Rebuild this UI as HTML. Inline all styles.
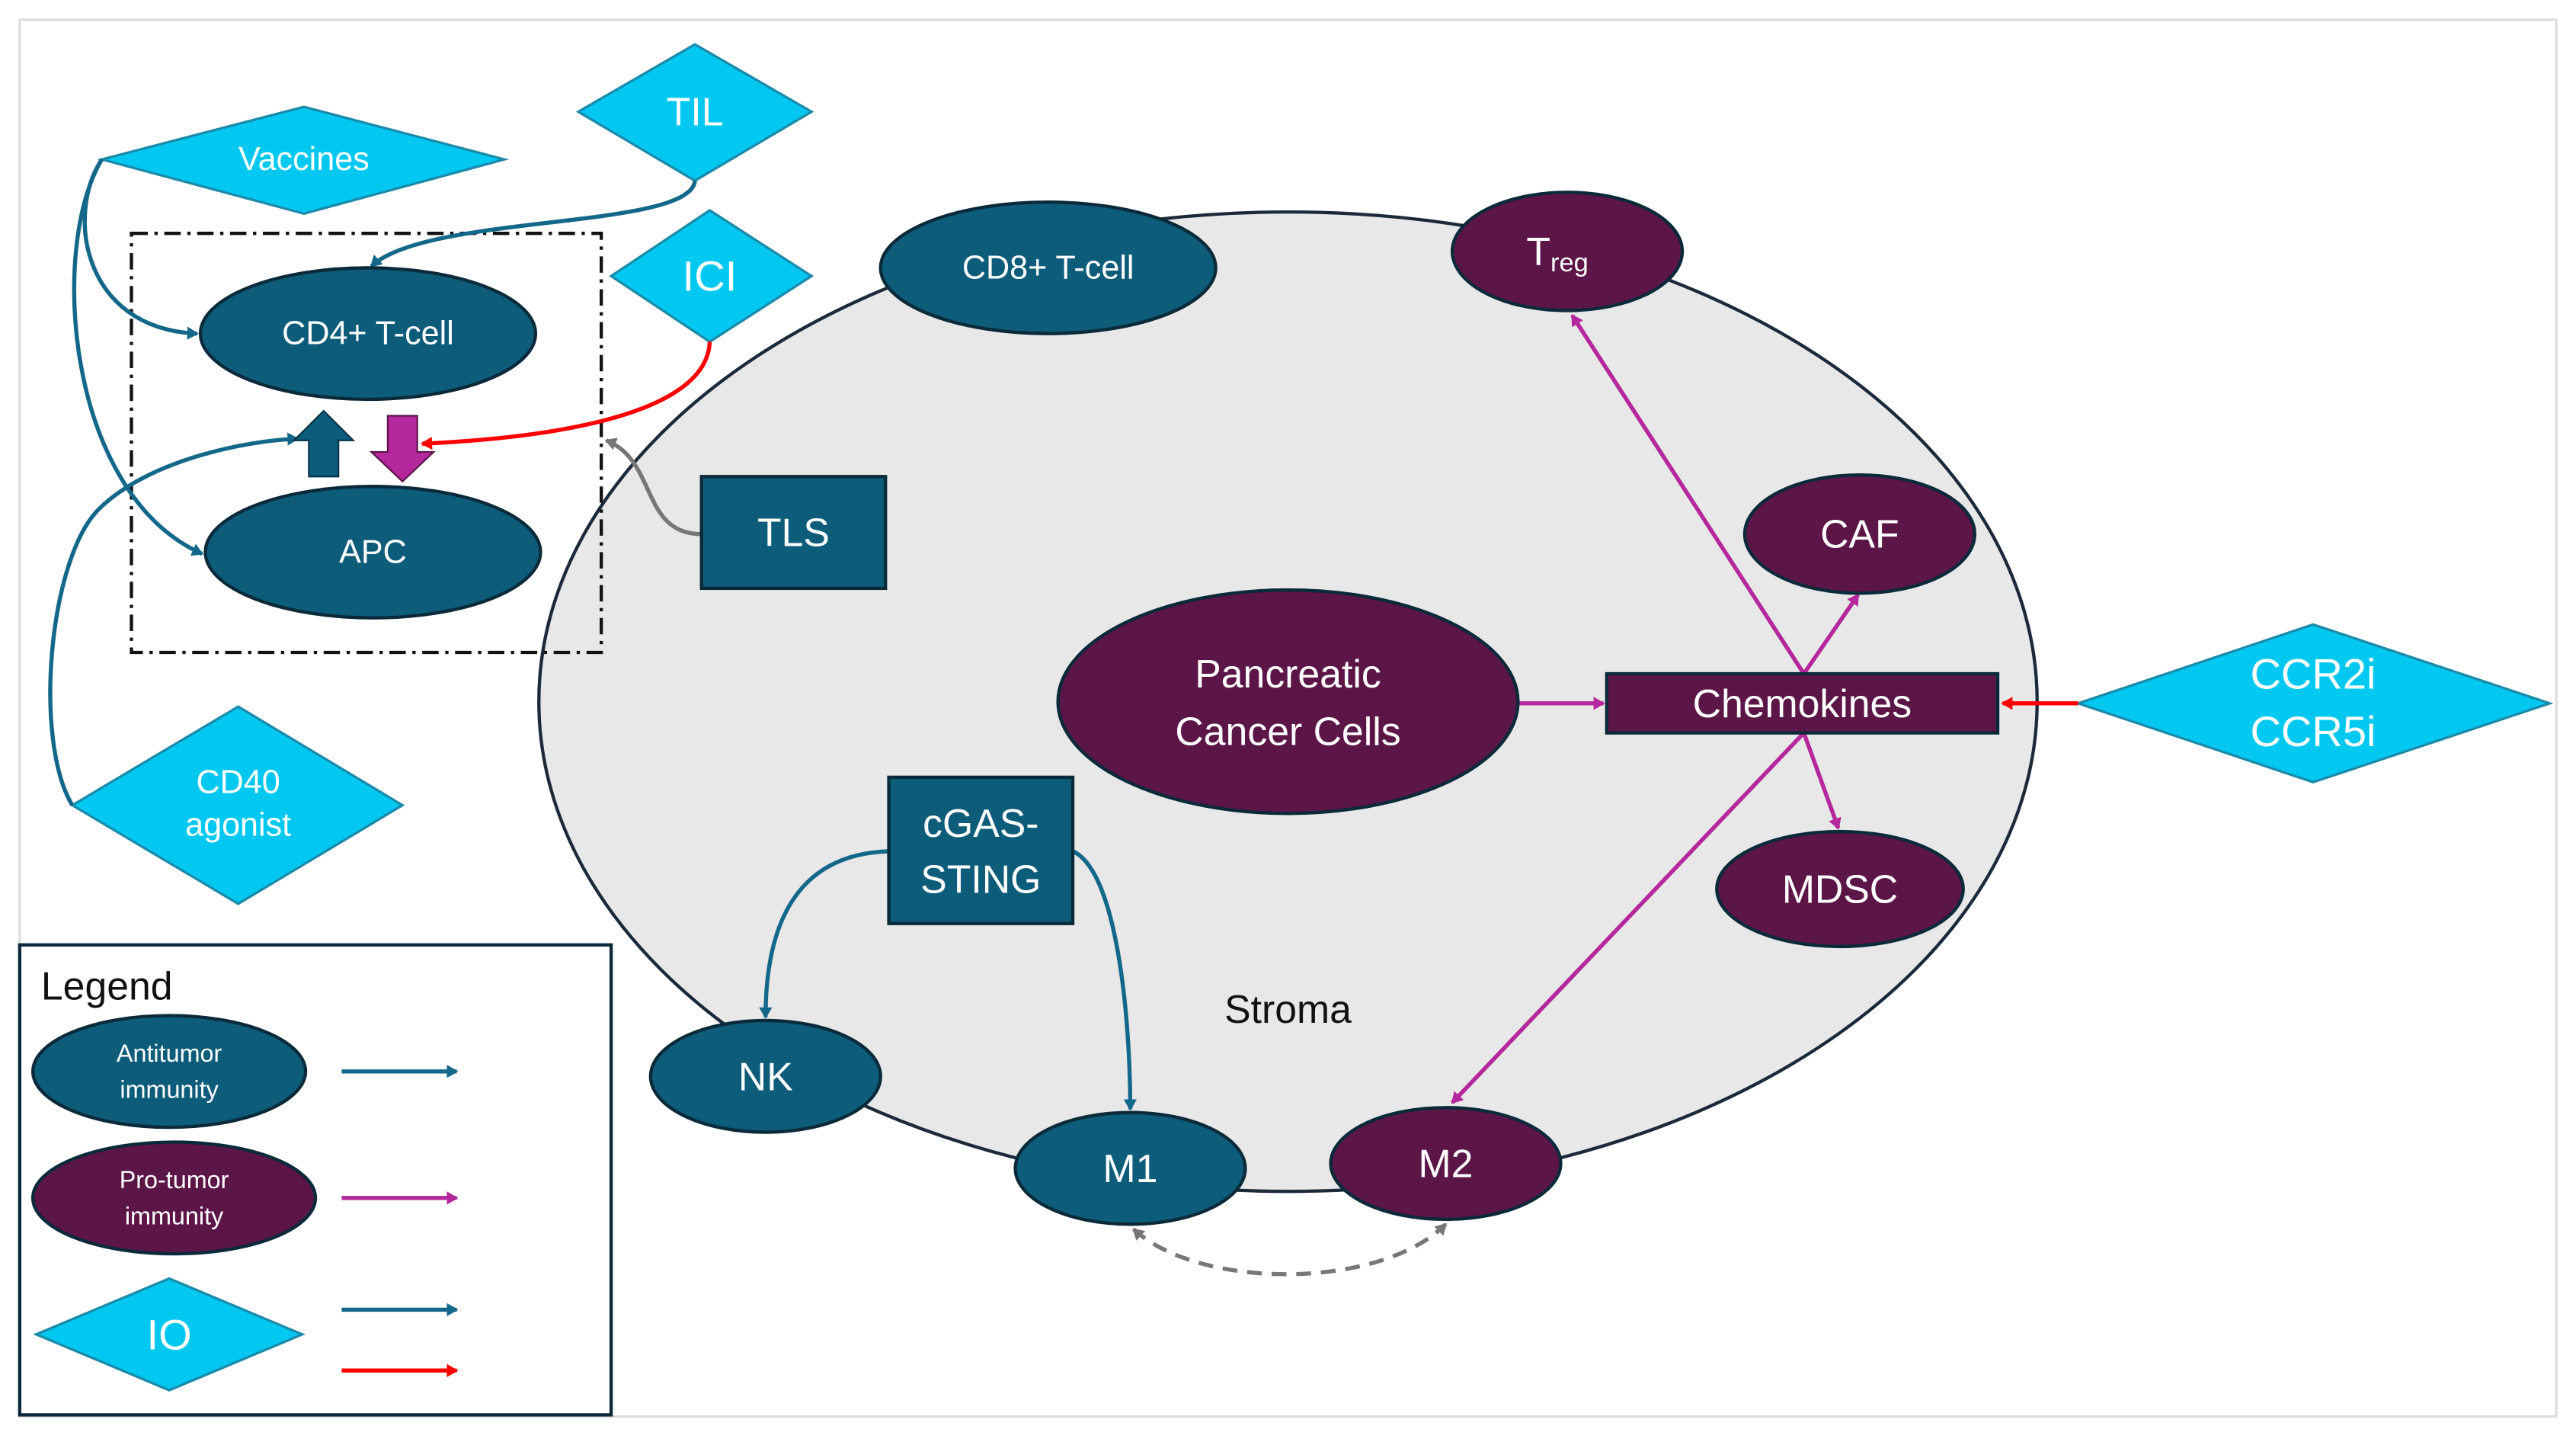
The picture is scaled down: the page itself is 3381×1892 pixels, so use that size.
<!DOCTYPE html>
<html><head><meta charset="utf-8"><style>
html,body{margin:0;padding:0;background:#fff}
svg{display:block}
text{font-family:"Liberation Sans",sans-serif;fill:#fff;text-anchor:middle;dominant-baseline:central}
</style></head><body>
<svg width="3381" height="1892" viewBox="0 0 1568 877.5" preserveAspectRatio="none" xmlns="http://www.w3.org/2000/svg">
<defs>
<marker id="at" markerWidth="8" markerHeight="8" refX="6" refY="4" orient="auto" markerUnits="userSpaceOnUse"><path d="M0,0 L7,4 L0,8 z" fill="#13688a"/></marker>
<marker id="am" markerWidth="8" markerHeight="8" refX="6" refY="4" orient="auto" markerUnits="userSpaceOnUse"><path d="M0,0 L7,4 L0,8 z" fill="#b5279c"/></marker>
<marker id="ar" markerWidth="8" markerHeight="8" refX="6" refY="4" orient="auto" markerUnits="userSpaceOnUse"><path d="M0,0 L7,4 L0,8 z" fill="#ff0000"/></marker>
<marker id="ag" markerWidth="8" markerHeight="8" refX="6" refY="4" orient="auto" markerUnits="userSpaceOnUse"><path d="M0,0 L7,4 L0,8 z" fill="#777"/></marker>
<marker id="ag2" markerWidth="8" markerHeight="8" refX="1" refY="4" orient="auto" markerUnits="userSpaceOnUse"><path d="M7,0 L0,4 L7,8 z" fill="#777"/></marker>
</defs>
<rect x="12" y="12" width="1544" height="850" fill="none" stroke="#ddd" stroke-width="1.5"/>
<ellipse cx="784" cy="427" rx="456" ry="298" fill="#e8e8e8" stroke="#1a2a3a" stroke-width="2"/>
<rect x="80" y="142" width="286" height="255" fill="none" stroke="#111" stroke-width="2" stroke-dasharray="10,4,2,4"/>
<g fill="#00c8f0" stroke="#1a8aaa" stroke-width="1.5">
<polygon points="62,97 185,65 307,97 185,130"/>
<polygon points="352,68 423,27 494,68 423,110"/>
<polygon points="372,168 432,128 494,168 432,208"/>
<polygon points="44,490 145,430 245,490 145,550"/>
<polygon points="1265,428 1408,380 1552,428 1408,476"/>
<polygon points="22,812 103,778 184,812 103,846"/>
</g>
<g fill="none" stroke-width="2.5">
<path d="M62,97 C40,130 50,200 120,203" stroke="#13688a" marker-end="url(#at)"/>
<path d="M62,97 C30,150 40,300 123,337" stroke="#13688a" marker-end="url(#at)"/>
<path d="M423,110 C420,140 260,130 226,162" stroke="#13688a" marker-end="url(#at)"/>
<path d="M44,490 C20,450 30,340 60,310 C90,280 150,268 181,267" stroke="#13688a" marker-end="url(#at)"/>
<path d="M432,208 C430,260 300,268 257,270" stroke="#ff0000" marker-end="url(#ar)"/>
<path d="M427,325 C390,325 400,280 369,268" stroke="#777" marker-end="url(#ag)"/>
<path d="M541,518 C480,520 466,570 466,619" stroke="#13688a" marker-end="url(#at)"/>
<path d="M653,518 C680,530 688,620 688,675" stroke="#13688a" marker-end="url(#at)"/>
<path d="M690,748 C730,785 840,785 880,745" stroke="#777" stroke-dasharray="9,6" marker-start="url(#ag2)" marker-end="url(#ag)"/>
<path d="M924,428 L976,428" stroke="#b5279c" marker-end="url(#am)"/>
<path d="M1098,410 L957,192" stroke="#b5279c" marker-end="url(#am)"/>
<path d="M1098,410 L1131,362" stroke="#b5279c" marker-end="url(#am)"/>
<path d="M1098,446 L1119,504" stroke="#b5279c" marker-end="url(#am)"/>
<path d="M1098,446 L884,671" stroke="#b5279c" marker-end="url(#am)"/>
<path d="M1265,428 L1219,428" stroke="#ff0000" marker-end="url(#ar)"/>
<path d="M208,652 L278,652" stroke="#13688a" marker-end="url(#at)"/>
<path d="M208,729 L278,729" stroke="#b5279c" marker-end="url(#am)"/>
<path d="M208,797 L278,797" stroke="#13688a" marker-end="url(#at)"/>
<path d="M208,834 L278,834" stroke="#ff0000" marker-end="url(#ar)"/>
</g>
<polygon points="197,250 215,268 206,268 206,290 188,290 188,268 179,268" fill="#0d5c7a" stroke="#063348" stroke-width="1"/>
<polygon points="236,253 254,253 254,275 264,275 245,293 226,275 236,275" fill="#b5279c" stroke="#5b1547" stroke-width="1"/>
<g stroke="#0a2a3a" stroke-width="2">
<ellipse cx="224" cy="203" rx="102" ry="40" fill="#0d5c7a"/>
<ellipse cx="227" cy="336" rx="102" ry="40" fill="#0d5c7a"/>
<ellipse cx="638" cy="163" rx="102" ry="40" fill="#0d5c7a"/>
<ellipse cx="466" cy="655" rx="70" ry="34" fill="#0d5c7a"/>
<ellipse cx="688" cy="711" rx="70" ry="34" fill="#0d5c7a"/>
<ellipse cx="103" cy="652" rx="83" ry="34" fill="#0d5c7a"/>
<rect x="541" y="473" width="112" height="89" fill="#0d5c7a"/>
<rect x="427" y="290" width="112" height="68" fill="#0d5c7a"/>
<ellipse cx="954" cy="153" rx="70" ry="36" fill="#5b1547"/>
<ellipse cx="1132" cy="325" rx="70" ry="36" fill="#5b1547"/>
<ellipse cx="784" cy="427" rx="140" ry="68" fill="#5b1547"/>
<ellipse cx="1120" cy="541" rx="75" ry="35" fill="#5b1547"/>
<ellipse cx="880" cy="708" rx="70" ry="34" fill="#5b1547"/>
<ellipse cx="106" cy="729" rx="86" ry="34" fill="#5b1547"/>
<rect x="978" y="410" width="238" height="36" fill="#5b1547"/>
</g>
<rect x="12" y="575" width="360" height="286" fill="none" stroke="#0a2a3a" stroke-width="2"/>
<text x="185" y="97" font-size="20">Vaccines</text>
<text x="423" y="68" font-size="24">TIL</text>
<text x="432" y="168" font-size="26">ICI</text>
<text x="145" y="476" font-size="20">CD40</text>
<text x="145" y="502" font-size="20">agonist</text>
<text x="1408" y="410" font-size="26">CCR2i</text>
<text x="1408" y="445" font-size="26">CCR5i</text>
<text x="103" y="812" font-size="26">IO</text>
<text x="224" y="203" font-size="20">CD4+ T-cell</text>
<text x="227" y="336" font-size="20">APC</text>
<text x="638" y="163" font-size="20">CD8+ T-cell</text>
<text x="466" y="655" font-size="24">NK</text>
<text x="688" y="711" font-size="24">M1</text>
<text x="880" y="708" font-size="24">M2</text>
<text x="597" y="501" font-size="24">cGAS-</text>
<text x="597" y="535" font-size="24">STING</text>
<text x="483" y="324" font-size="24">TLS</text>
<text x="948" y="153" font-size="24">T<tspan font-size="16" dy="7">reg</tspan></text>
<text x="1132" y="325" font-size="24">CAF</text>
<text x="784" y="410" font-size="24">Pancreatic</text>
<text x="784" y="445" font-size="24">Cancer Cells</text>
<text x="1120" y="541" font-size="24">MDSC</text>
<text x="1097" y="428" font-size="24">Chemokines</text>
<text x="103" y="641" font-size="15">Antitumor</text>
<text x="103" y="663" font-size="15">immunity</text>
<text x="106" y="718" font-size="15">Pro-tumor</text>
<text x="106" y="740" font-size="15">immunity</text>
<text x="784" y="614" font-size="24" style="fill:#111">Stroma</text>
<text x="25" y="600" font-size="24" style="fill:#111;text-anchor:start">Legend</text>
</svg>
</body></html>
